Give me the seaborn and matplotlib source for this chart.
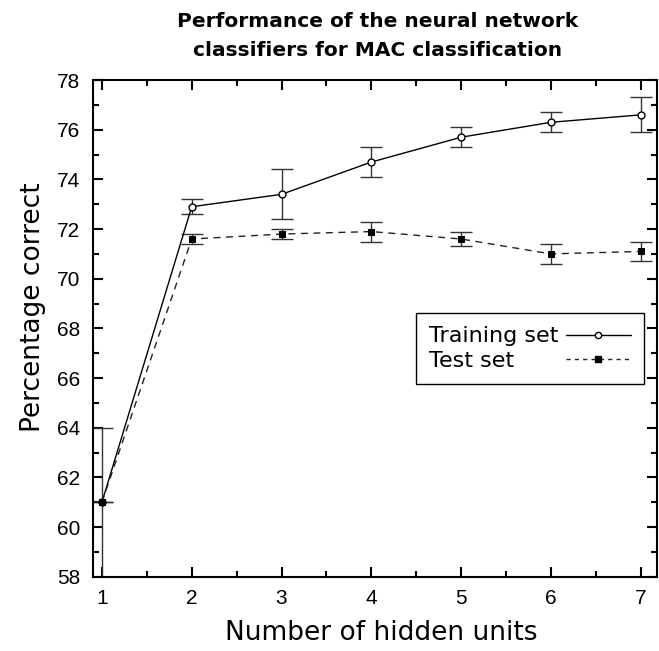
import matplotlib
matplotlib.use("Agg")
import matplotlib.pyplot as plt
import seaborn as sns
import pandas as pd
from matplotlib.ticker import MultipleLocator
from matplotlib.lines import Line2D

hidden_units = [1, 2, 3, 4, 5, 6, 7]
train_mean = [61.0, 72.9, 73.4, 74.7, 75.7, 76.3, 76.6]
train_err = [3.0, 0.3, 1.0, 0.6, 0.4, 0.4, 0.7]
test_mean = [61.0, 71.6, 71.8, 71.9, 71.6, 71.0, 71.1]
test_err = [0.0, 0.2, 0.2, 0.4, 0.3, 0.4, 0.4]

sns.set_style("ticks")
plt.rcParams['font.family'] = ['Liberation Sans', 'DejaVu Sans']
plt.rcParams['text.color'] = 'black'
plt.rcParams['axes.labelcolor'] = 'black'
plt.rcParams['xtick.color'] = 'black'
plt.rcParams['ytick.color'] = 'black'

df_train = pd.DataFrame({"units": hidden_units, "pct": train_mean})
df_test = pd.DataFrame({"units": hidden_units, "pct": test_mean})

fig = plt.figure(figsize=(6.59, 6.51), dpi=100)
ax = fig.add_axes([0.141, 0.114, 0.856, 0.763])

ax.errorbar(hidden_units, train_mean, yerr=train_err, fmt='none', ecolor='#333333',
            elinewidth=1.0, capsize=8, capthick=1.0, zorder=2)
ax.errorbar(hidden_units, test_mean, yerr=test_err, fmt='none', ecolor='#333333',
            elinewidth=1.0, capsize=8, capthick=1.0, zorder=2)

sns.lineplot(data=df_train, x="units", y="pct", ax=ax, color='black', linewidth=1.0,
             marker='o', markersize=5, markerfacecolor='white', markeredgecolor='black',
             markeredgewidth=1.0, zorder=3)
sns.lineplot(data=df_test, x="units", y="pct", ax=ax, color='#222222', linewidth=1.0,
             linestyle=(0, (5, 4)), marker='s', markersize=5, markerfacecolor='black',
             markeredgecolor='black', zorder=4)

ax.set_xlim(0.9, 7.18)
ax.set_ylim(58, 78)
ax.xaxis.set_major_locator(MultipleLocator(1))
ax.xaxis.set_minor_locator(MultipleLocator(0.5))
ax.yaxis.set_major_locator(MultipleLocator(2))
ax.yaxis.set_minor_locator(MultipleLocator(1))
ax.tick_params(which='both', direction='in', top=True, right=True, width=1.5,
               color='black', labelcolor='black')
ax.tick_params(which='major', length=7.5, labelsize=15, pad=9,
               labelfontfamily='Liberation Sans')
ax.tick_params(which='minor', length=4)
for s in ax.spines.values():
    s.set_linewidth(1.5)
    s.set_color('black')

ax.set_xlabel("Number of hidden units", fontsize=19, family='DejaVu Sans',
              va='top', ha='center', color='black')
ax.xaxis.set_label_coords(0.512, -0.088)
ax.set_ylabel("Percentage correct", fontsize=19, family='DejaVu Sans', color='black')
ax.yaxis.set_label_coords(-0.083, 0.543)
ax.set_title("Performance of the neural network\nclassifiers for MAC classification",
             fontsize=14.5, fontweight='bold', family='DejaVu Sans', pad=17,
             linespacing=1.68, x=0.505, color='black')

h1 = Line2D([], [], color='black', linewidth=1.0, marker='o', markersize=4.5,
            markerfacecolor='white', markeredgecolor='black')
h2 = Line2D([], [], color='#222222', linewidth=1.0, linestyle=(0, (3, 3)), marker='s',
            markersize=4.5, markerfacecolor='black', markeredgecolor='black')
leg = ax.legend([h1, h2], ["Training set", "Test set"], loc='upper left',
                bbox_to_anchor=(0.573, 0.531), markerfirst=False,
                prop={'family': 'DejaVu Sans', 'size': 16},
                frameon=True, fancybox=False, edgecolor='black', framealpha=1,
                handlelength=2.95, borderpad=0.6, labelspacing=0.2, handletextpad=0.3,
                borderaxespad=0)
leg.get_frame().set_linewidth(1.0)
for t in leg.get_texts():
    t.set_color('black')

# left-align label texts while keeping the line samples in a right-hand column
fig.canvas.draw()
renderer = fig.canvas.get_renderer()
texts = leg.get_texts()
widths = [t.get_window_extent(renderer).width for t in texts]
maxw = max(widths)
column = leg._legend_handle_box.get_children()[0]
column.align = "left"
for item, w in zip(column.get_children(), widths):
    item.sep = item.sep + (maxw - w) * 72.0 / fig.dpi

fig.savefig("out.png", dpi=100)
